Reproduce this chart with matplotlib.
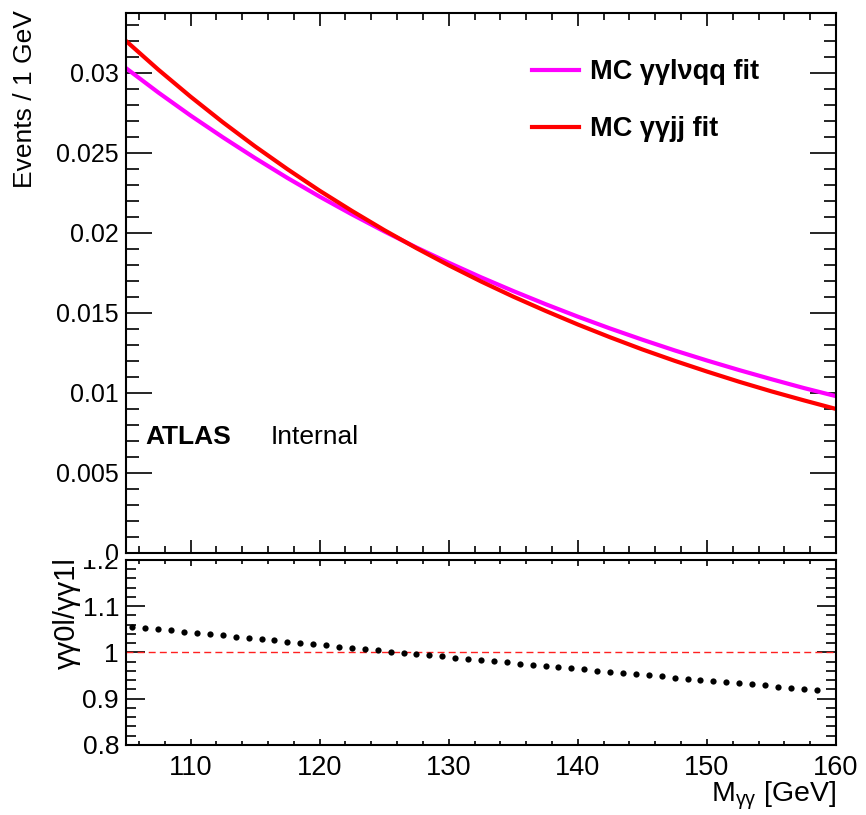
import numpy as np
import matplotlib
matplotlib.use('Agg')
import matplotlib.pyplot as plt
from matplotlib.ticker import MultipleLocator, FormatStrFormatter
from matplotlib.transforms import Bbox, TransformedBbox

plt.rcParams['font.family'] = ['Liberation Sans', 'DejaVu Sans']
plt.rcParams['mathtext.fontset'] = 'custom'
plt.rcParams['mathtext.rm'] = 'Liberation Sans'
plt.rcParams['mathtext.it'] = 'Liberation Sans:italic'

# fit curves, every 2.5 GeV
mass = [105, 107.5, 110, 112.5, 115, 117.5, 120, 122.5, 125, 127.5, 130, 132.5,
        135, 137.5, 140, 142.5, 145, 147.5, 150, 152.5, 155, 157.5, 160]
fit_lvqq = [0.03030, 0.02878, 0.02734, 0.02598, 0.02468, 0.02344, 0.02227,
            0.02116, 0.02010, 0.01909, 0.01814, 0.01723, 0.01637, 0.01555,
            0.01477, 0.01403, 0.01333, 0.01266, 0.01203, 0.01143, 0.01086,
            0.01031, 0.00980]
fit_jj = [0.03200, 0.03021, 0.02852, 0.02692, 0.02541, 0.02399, 0.02264,
          0.02138, 0.02018, 0.01905, 0.01798, 0.01697, 0.01602, 0.01513,
          0.01428, 0.01348, 0.01272, 0.01201, 0.01134, 0.01070, 0.01010,
          0.00954, 0.00900]

# ratio points, one per 1 GeV bin
ratio_mass = np.arange(105.5, 159.0, 1.0)
ratio = [1.0560, 1.0532, 1.0505, 1.0477, 1.0450, 1.0423, 1.0395, 1.0368,
         1.0341, 1.0314, 1.0287, 1.0260, 1.0233, 1.0206, 1.0180, 1.0153,
         1.0126, 1.0100, 1.0073, 1.0047, 1.0021, 0.9994, 0.9968, 0.9942,
         0.9916, 0.9890, 0.9864, 0.9838, 0.9813, 0.9787, 0.9761, 0.9736,
         0.9710, 0.9685, 0.9659, 0.9634, 0.9609, 0.9584, 0.9559, 0.9534,
         0.9509, 0.9484, 0.9459, 0.9434, 0.9410, 0.9385, 0.9360, 0.9336,
         0.9311, 0.9287, 0.9263, 0.9238, 0.9214, 0.9190]

labels = ['MC γγlνqq fit', 'MC γγjj fit']
colors = ['#ff00ff', '#ff0000']

fig = plt.figure(figsize=(8.66, 8.15), dpi=100)
ax = fig.add_axes([0.1455, 0.3215, 0.8199, 0.6626])
ax2 = fig.add_axes([0.1455, 0.0859, 0.8199, 0.2270])

# top pad
ax.plot(mass, fit_lvqq, color=colors[0], lw=3, label=labels[0])
ax.plot(mass, fit_jj, color=colors[1], lw=3, label=labels[1])
ax.set_xlim(105, 160)
ax.set_ylim(0, 0.03375)
ax.xaxis.set_major_locator(MultipleLocator(10))
ax.xaxis.set_minor_locator(MultipleLocator(2))
ax.yaxis.set_major_locator(MultipleLocator(0.005))
ax.yaxis.set_minor_locator(MultipleLocator(0.001))
ax.yaxis.set_major_formatter(FormatStrFormatter('%g'))
ax.tick_params(which='both', direction='in', top=True, right=True, width=1.2,
               labelbottom=False, labelsize=18, pad=5)
ax.tick_params(axis='y', which='major', length=18.5)
ax.tick_params(axis='y', which='minor', length=9)
ax.tick_params(axis='x', which='major', length=9.5)
ax.tick_params(axis='x', which='minor', length=4.7)

ax.legend(loc='upper left', bbox_to_anchor=(0.572, 0.914), frameon=False,
          prop={'size': 19.5, 'weight': 'bold'}, handlelength=1.74,
          handletextpad=0.4, labelspacing=1.13, borderpad=0, borderaxespad=0)
ax.text(0.0268, 0.2013, 'ATLAS', transform=ax.transAxes, fontsize=19,
        fontweight='bold', va='baseline')
ax.text(0.2042, 0.2013, 'Internal', transform=ax.transAxes, fontsize=19,
        va='baseline')

# ratio pad
ax2.axhline(1.0, color='#ff2020', lw=1, ls=(0, (5, 3)))
ax2.plot(ratio_mass, ratio, 'o', color='black', ms=4.5, mew=0)
ax2.set_xlim(105, 160)
ax2.set_ylim(0.8, 1.2)
ax2.xaxis.set_major_locator(MultipleLocator(10))
ax2.xaxis.set_minor_locator(MultipleLocator(2))
ax2.yaxis.set_major_locator(MultipleLocator(0.1))
ax2.yaxis.set_minor_locator(MultipleLocator(0.02))
ax2.yaxis.set_major_formatter(FormatStrFormatter('%g'))
ax2.tick_params(which='both', direction='in', top=True, right=True, width=1.2,
                labelsize=19, pad=5)
ax2.tick_params(axis='x', labelsize=19.5, pad=7)
ax2.tick_params(axis='y', which='major', length=13.7)
ax2.tick_params(axis='y', which='minor', length=7)
ax2.tick_params(axis='x', which='major', length=4.5)
ax2.tick_params(axis='x', which='minor', length=2.8)

for a in (ax, ax2):
    for s in a.spines.values():
        s.set_linewidth(1.5)

# labels of each pad are cut at the pad border, like ROOT pads
split = 0.3129
top_clip = TransformedBbox(Bbox([[0, split], [1, 1]]), fig.transFigure)
bot_clip = TransformedBbox(Bbox([[0, 0], [1, split]]), fig.transFigure)
for lbl in ax.get_yticklabels():
    lbl.set_clip_box(top_clip)
    lbl.set_clip_on(True)
for lbl in ax2.get_yticklabels():
    lbl.set_clip_box(bot_clip)
    lbl.set_clip_on(True)

fig.text(0.0289, 0.9877, 'Events / 1 GeV', rotation=90, ha='center', va='top',
         fontsize=19)
fig.text(0.0774, 1 - 557 / 815, 'γγ0l/γγ1l', rotation=90, ha='center',
         va='top', fontsize=21)
fig.text(0.9654, 0.0163, r'M$_{\mathrm{γγ}}$ [GeV]', ha='right',
         va='baseline', fontsize=20.5)

fig.savefig('out.png', dpi=100)
